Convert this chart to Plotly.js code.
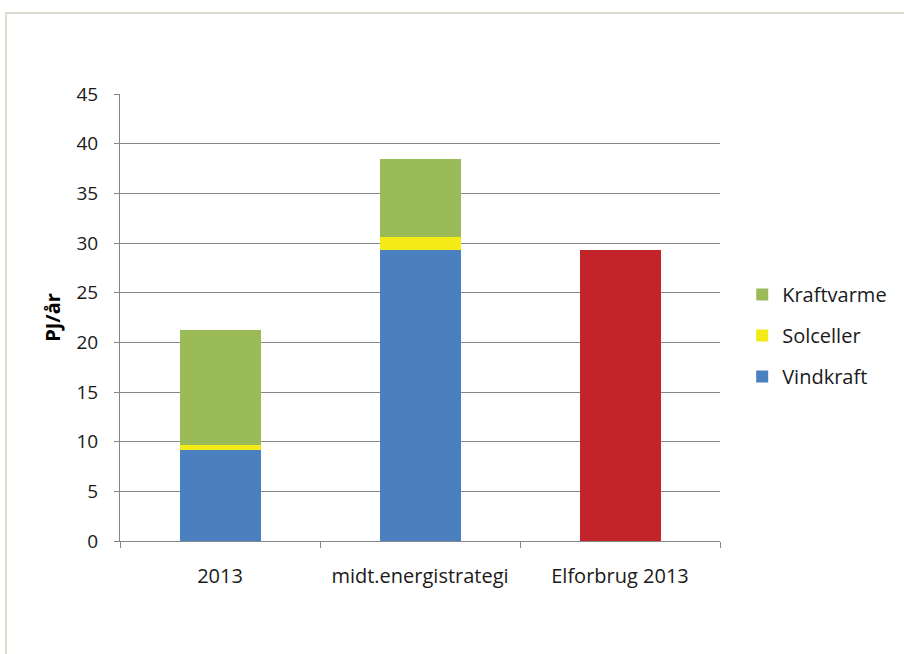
<!DOCTYPE html>
<html>
<head>
<meta charset="utf-8">
<script src="https://cdn.plot.ly/plotly-3.0.1.min.js"></script>
<style>
  html, body { margin: 0; padding: 0; background: #fff; overflow: hidden; }
  #frame { position: absolute; left: 5px; top: 12px; width: 940px; height: 700px; border: 2px solid #dddcce; box-sizing: border-box; pointer-events: none; z-index: 2; }
  #chart { position: absolute; left: 0; top: 0; width: 904px; height: 654px; }
</style>
</head>
<body>
<div id="chart"></div>
<div id="frame"></div>
<script>
const categories = ["2013", "midt.energistrategi", "Elforbrug 2013"];
const vindkraft = [9.2, 29.3, null];
const solceller = [0.45, 1.35, null];
const kraftvarme = [11.6, 7.85, null];
const elforbrug = [null, null, 29.3];
const yTicks = [0, 5, 10, 15, 20, 25, 30, 35, 40, 45];

const font = "'Open Sans', Lato, sans-serif";
const traces = [
  { type: "bar", name: "Vindkraft", legendgroup: "v", legendrank: 3, x: categories, y: vindkraft, marker: { color: "#4a7fc0" } },
  { type: "bar", name: "Solceller", legendgroup: "s", legendrank: 2, x: categories, y: solceller, marker: { color: "#f3ea16" } },
  { type: "bar", name: "Kraftvarme", legendgroup: "k", legendrank: 1, x: categories, y: kraftvarme, marker: { color: "#9bbb59" } },
  { type: "bar", name: "Elforbrug", x: categories, y: elforbrug, marker: { color: "#c3242a" }, showlegend: false }
];

const layout = {
  width: 904, height: 654,
  margin: { l: 120, r: 182, t: 94, b: 113 },
  paper_bgcolor: "#ffffff", plot_bgcolor: "#ffffff",
  barmode: "stack", bargap: 0.595,
  font: { family: font, size: 18, color: "#1a1a1a" },
  hovermode: false,
  xaxis: {
    type: "category",
    showline: true, linecolor: "#868686", linewidth: 1,
    ticks: "outside", tickson: "boundaries", ticklen: 6, tickcolor: "#868686",
    showgrid: false, zeroline: false,
    ticklabelstandoff: 17,
    tickfont: { family: font, size: 20, color: "#1a1a1a" }
  },
  yaxis: {
    range: [0, 45], tickvals: yTicks, ticktext: yTicks.map(String),
    showline: true, linecolor: "#868686", linewidth: 1,
    ticks: "outside", ticklen: 5, tickcolor: "#868686",
    showgrid: true, gridcolor: "#868686", gridwidth: 1,
    zeroline: false,
    ticklabelstandoff: 12,
    tickfont: { family: font, size: 19, color: "#1a1a1a" },
    title: { text: "<b>PJ/år</b>", font: { family: font, size: 20, color: "#000" }, standoff: 10 }
  },
  legend: {
    x: 1.037, xanchor: "left", y: 0.46, yanchor: "middle",
    traceorder: "grouped",
    font: { family: font, size: 20, color: "#1a1a1a" },
    itemsizing: "constant", tracegroupgap: 12,
    bgcolor: "rgba(0,0,0,0)"
  },
  showlegend: true
};

Plotly.newPlot("chart", traces, layout, { staticPlot: true, displayModeBar: false });
</script>
</body>
</html>
